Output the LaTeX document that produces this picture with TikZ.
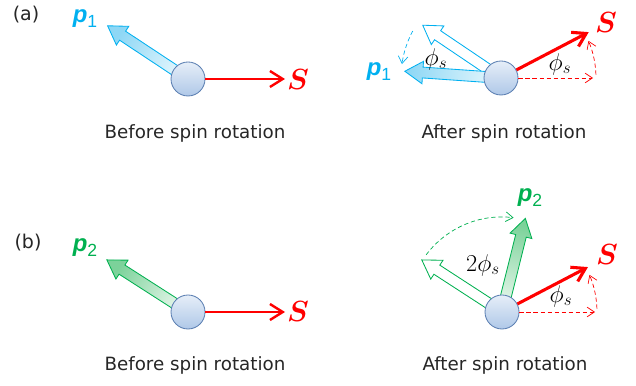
\documentclass[tikz,border=0pt]{standalone}
\usepackage{amsmath}
\usepackage{fontspec}
\setsansfont{DejaVu Sans}
\newfontfamily\momfont{Liberation Sans}
\usetikzlibrary{arrows.meta,calc,shapes.arrows}
\definecolor{SpinRed}{HTML}{FF0000}
\definecolor{MomBlue}{HTML}{00B0F0}
\definecolor{MomBlueFill}{HTML}{8ED7F5}
\definecolor{MomBlueLight}{HTML}{E6F7FD}
\definecolor{MomGreen}{HTML}{00B050}
\definecolor{MomGreenFill}{HTML}{7CD29A}
\definecolor{MomGreenLight}{HTML}{E8F7EC}
\definecolor{SphereTop}{HTML}{E6EEF8}
\definecolor{SphereBot}{HTML}{AFC8E8}
\definecolor{SphereEdge}{HTML}{5B7FB2}
\definecolor{Ink}{HTML}{262626}
\newcommand{\momlabel}[1]{p{\fontsize{12.5}{12}\selectfont\upshape\mdseries\raisebox{-0.5ex}{#1}}}

\begin{document}
\begin{tikzpicture}[
    x=0.25mm, y=0.25mm,
    sphere/.style={circle, minimum size=8.5mm, inner sep=0pt,
        draw=SphereEdge, line width=0.6pt,
        top color=SphereTop, bottom color=SphereBot},
    mom/.style={single arrow, anchor=tail, minimum height=24mm,
        minimum width=5.4mm, inner sep=0pt, inner ysep=1.25mm,
        single arrow head extend=1.45mm, single arrow tip angle=64,
        line width=0.6pt},
    % the shading stays on the page axes, so it is turned to the arrow by hand
    bluemom/.style={mom, draw=MomBlue, top color=MomBlueFill,
        bottom color=MomBlueLight, shading angle=#1-90, rotate=#1},
    greenmom/.style={mom, draw=MomGreen, top color=MomGreenFill,
        bottom color=MomGreenLight, shading angle=#1-90, rotate=#1},
    spin/.style={draw=SpinRed, line width=1.7pt, -{Straight Barb[length=3.2mm,width=4mm]}},
    guide/.style={densely dashed, line width=0.5pt, -{Straight Barb[length=1.8mm,width=2.4mm]}},
    plab/.style={font=\momfont\fontsize{17}{18}\selectfont\bfseries\itshape},
    slab/.style={font=\fontsize{22}{24}\selectfont, text=SpinRed},
    anglab/.style={font=\fontsize{18}{20}\selectfont, text=black},
    caption/.style={font=\sffamily\fontsize{13}{15}\selectfont, text=Ink},
    tag/.style={font=\sffamily\fontsize{13.5}{15}\selectfont, text=Ink}
]
\useasboundingbox (0,0) rectangle (636,385);

% (a) before spin rotation
\node[tag] (tagA) at (26,370) {(a)};
\node[bluemom=146.5] (pA1) at (188,306) {};
\node[sphere] (bA1) at (188,306) {};
\coordinate (sA1) at (285,306);
\draw[spin] (bA1) -- (sA1);
\node[plab, text=MomBlue] (pA1lab) at (85,366) {\momlabel{1}};
\node[slab] (sA1lab) at (298,306) {$\boldsymbol{S}$};
\node[caption] (capA1) at (195,252) {Before spin rotation};

% (a) after spin rotation
\node[mom, rotate=146, minimum height=23.5mm, draw=MomBlue, fill=white] (pA2old) at (501,307) {};
\node[bluemom=176] (pA2) at (501,307) {};
\node[sphere] (bA2) at (501,307) {};
\coordinate (hA2) at (593,307);
\coordinate (sA2) at ($(bA2)+(27.6:99)$);
\draw[guide, draw=SpinRed] (bA2) -- (hA2);
\draw[guide, draw=SpinRed] ($(bA2)+(2:95)$) arc[start angle=2, end angle=23, radius=95];
\draw[guide, draw=MomBlue] ($(bA2)+(152:100)$) arc[start angle=152, end angle=172, radius=100];
\draw[spin, line width=2.2pt] (bA2) -- (sA2);
\node[plab, text=MomBlue] (pA2lab) at (379,313) {\momlabel{1}};
\node[slab] (sA2lab) at (606,363) {$\boldsymbol{S}$};
\node[anglab] (phiA2p) at (436,326) {$\phi_s$};
\node[anglab] (phiA2s) at (560,321) {$\phi_s$};
\node[caption] (capA2) at (504,252) {After spin rotation};

% (b) before spin rotation
\node[tag] (tagB) at (28,142) {(b)};
\node[greenmom=147.3] (pB1) at (188,73) {};
\node[sphere] (bB1) at (188,73) {};
\coordinate (sB1) at (285,73);
\draw[spin] (bB1) -- (sB1);
\node[plab, text=MomGreen] (pB1lab) at (85,137) {\momlabel{2}};
\node[slab] (sB1lab) at (298,74) {$\boldsymbol{S}$};
\node[caption] (capB1) at (195,20) {Before spin rotation};

% (b) after spin rotation
\node[mom, rotate=147, minimum height=23.8mm, draw=MomGreen, fill=white] (pB2old) at (502,73) {};
\node[greenmom=76] (pB2) at (502,73) {};
\node[sphere] (bB2) at (502,73) {};
\coordinate (hB2) at (595,73);
\coordinate (sB2) at ($(bB2)+(27.6:97)$);
\draw[guide, draw=SpinRed] (bB2) -- (hB2);
\draw[guide, draw=SpinRed] ($(bB2)+(2:95)$) arc[start angle=2, end angle=23, radius=95];
\draw[guide, draw=MomGreen] ($(bB2)+(143:95)$) arc[start angle=143, end angle=83, radius=95];
\draw[spin, line width=2.2pt] (bB2) -- (sB2);
\node[plab, text=MomGreen] (pB2lab) at (530,187) {\momlabel{2}};
\node[slab] (sB2lab) at (607,131) {$\boldsymbol{S}$};
\node[anglab] (phiB2p) at (483,120) {$2\phi_s$};
\node[anglab] (phiB2s) at (561,89) {$\phi_s$};
\node[caption] (capB2) at (505,20) {After spin rotation};

\end{tikzpicture}
\end{document}
